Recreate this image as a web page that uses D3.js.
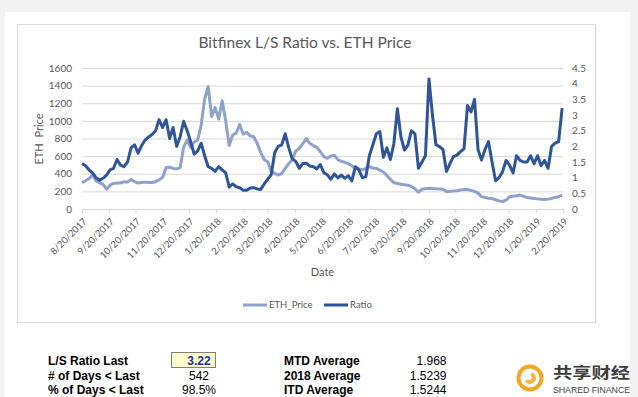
<!DOCTYPE html>
<html>
<head>
<meta charset="utf-8">
<script src="https://cdn.jsdelivr.net/npm/d3@7"></script>
<style>
  html, body { margin: 0; padding: 0; background: #f2f2f2; }
  svg { display: block; }
</style>
</head>
<body>
<script>
// x axis labels, one per month
var tickLabels = ["8/20/2017", "9/20/2017", "10/20/2017", "11/20/2017", "12/20/2017",
  "1/20/2018", "2/20/2018", "3/20/2018", "4/20/2018", "5/20/2018", "6/20/2018",
  "7/20/2018", "8/20/2018", "9/20/2018", "10/20/2018", "11/20/2018", "12/20/2018",
  "1/20/2019", "2/20/2019"];

// series, one value every 4 days from the first date
var startDate = "8/20/2017";
var stepDays = 4;

var ethPrice = [300, 320, 345, 385, 320, 300, 280, 225, 270, 290,
  295, 295, 310, 305, 335, 310, 295, 300, 305, 300,
  300, 310, 330, 360, 470, 475, 460, 455, 470, 700,
  785, 700, 760, 780, 950, 1250, 1390, 1050, 1150, 1020,
  1230, 1000, 720, 840, 860, 960, 850, 870, 830, 820,
  745, 640, 560, 535, 430, 405, 385, 405, 460, 515,
  560, 660, 690, 740, 800, 745, 720, 700, 650, 595,
  575, 600, 610, 560, 540, 530, 515, 490, 460, 455,
  445, 460, 480, 465, 460, 440, 420, 380, 335, 300,
  290, 280, 275, 270, 255, 230, 190, 225, 230, 235,
  232, 230, 228, 225, 200, 200, 205, 208, 215, 220,
  222, 210, 200, 180, 140, 130, 122, 118, 105, 92,
  85, 100, 140, 145, 150, 158, 145, 130, 125, 120,
  115, 110, 108, 112, 120, 132, 140, 158];

var ratio = [1.45, 1.38, 1.25, 1.15, 1.0, 0.92, 0.98, 1.08, 1.25, 1.3,
  1.58, 1.4, 1.35, 1.5, 1.95, 2.05, 1.78, 2.02, 2.2, 2.3,
  2.38, 2.5, 2.85, 2.6, 2.85, 2.25, 2.6, 2.0, 2.3, 2.8,
  2.5, 2.15, 1.75, 1.85, 2.1, 1.7, 1.35, 1.3, 1.2, 1.35,
  1.25, 1.15, 0.7, 0.8, 0.71, 0.68, 0.6, 0.6, 0.67, 0.68,
  0.64, 0.62, 0.8, 0.95, 1.1, 1.8, 2.0, 2.05, 2.4, 1.95,
  1.6, 1.52, 1.3, 1.45, 1.46, 1.37, 1.35, 1.28, 1.42, 1.16,
  1.09, 0.95, 1.12, 1.0, 1.08, 0.98, 1.06, 0.9, 1.35, 1.25,
  1.0, 1.03, 1.7, 2.05, 2.4, 2.47, 1.65, 1.95, 1.58, 2.1,
  3.2, 2.3, 1.88, 2.04, 2.5, 2.4, 1.3, 1.5, 1.7, 4.15,
  3.0, 2.05, 1.99, 1.9, 1.2, 1.45, 1.67, 1.72, 1.83, 1.92,
  3.3, 3.1, 3.5, 1.9, 1.56, 1.9, 2.15, 1.5, 0.9, 1.0,
  1.19, 1.55, 1.4, 1.15, 1.7, 1.55, 1.5, 1.5, 1.7, 1.45,
  1.7, 1.38, 1.55, 1.3, 2.0, 2.1, 2.15, 3.22];

var leftTicks = [0, 200, 400, 600, 800, 1000, 1200, 1400, 1600];
var rightTicks = [0, 0.5, 1, 1.5, 2, 2.5, 3, 3.5, 4, 4.5];

var seriesNames = ["ETH_Price", "Ratio"];
var seriesColors = ["#8fa2cc", "#2f5597"];

var statLabels = ["L/S Ratio Last", "# of Days < Last", "% of Days < Last"];
var statValues = ["3.22", "542", "98.5%"];
var avgLabels = ["MTD Average", "2018 Average", "ITD Average"];
var avgValues = ["1.968", "1.5239", "1.5244"];

// ==============================================================================

var width = 638, height = 397;
var font = "Lato, 'Open Sans', sans-serif";
var textColor = "#595959";

var parseDate = d3.timeParse("%m/%d/%Y");
var t0 = parseDate(startDate);
var dates = ethPrice.map((d, i) => d3.timeDay.offset(t0, i * stepDays));
var tickDates = tickLabels.map(parseDate);

var x = d3.scaleTime()
    .domain([tickDates[0], tickDates[tickDates.length - 1]])
    .range([82, 563]);

var yL = d3.scaleLinear().domain([0, 1600]).range([209, 68]);
var yR = d3.scaleLinear().domain([0, 4.5]).range([209, 68]);

var svg = d3.select("body").append("svg")
    .attr("width", width)
    .attr("height", height);

// white sheet and chart frame
svg.append("rect")
    .attr("x", 5).attr("y", 12)
    .attr("width", 625).attr("height", height - 12)
    .attr("fill", "#fff");

svg.append("rect")
    .attr("x", 17.5).attr("y", 24.5)
    .attr("width", 578).attr("height", 298)
    .attr("fill", "#fff")
    .attr("stroke", "#d9d9d9");

svg.append("text")
    .attr("x", 305).attr("y", 48)
    .attr("text-anchor", "middle")
    .style("font-family", font)
    .style("font-size", "15.5px")
    .attr("fill", textColor)
    .text("Bitfinex L/S Ratio vs. ETH Price");

// left axis + gridlines
var gLeft = svg.append("g")
    .attr("transform", "translate(82,0)")
    .call(d3.axisLeft(yL).tickValues(leftTicks).tickSizeInner(-481).tickSizeOuter(0)
      .tickPadding(10).tickFormat(d => String(d)));
gLeft.select(".domain").remove();
gLeft.selectAll("line").attr("stroke", "#d9d9d9");
gLeft.selectAll("text")
    .style("font-family", font).style("font-size", "10px").attr("fill", textColor);

// right axis
var gRight = svg.append("g")
    .attr("transform", "translate(563,0)")
    .call(d3.axisRight(yR).tickValues(rightTicks).tickSize(0).tickPadding(9).tickFormat(d => String(d)));
gRight.select(".domain").remove();
gRight.selectAll("text")
    .style("font-family", font).style("font-size", "10px").attr("fill", textColor);

// bottom axis
var gBottom = svg.append("g")
    .attr("transform", "translate(0,209)")
    .call(d3.axisBottom(x).tickValues(tickDates).tickSizeInner(4).tickSizeOuter(0)
      .tickFormat((d, i) => tickLabels[i]));
gBottom.select(".domain").attr("stroke", "#d9d9d9");
gBottom.selectAll("line").attr("stroke", "#d9d9d9");
gBottom.selectAll("text")
    .attr("y", 0).attr("dy", 0)
    .attr("text-anchor", "end")
    .attr("transform", "translate(5,13) rotate(-45)")
    .style("font-family", font).style("font-size", "9.5px").attr("fill", textColor);

// axis titles
svg.append("text")
    .attr("transform", "translate(43,139) rotate(-90)")
    .attr("text-anchor", "middle")
    .style("font-family", font).style("font-size", "11px")
    .style("white-space", "pre")
    .attr("fill", textColor)
    .text("ETH  Price");

svg.append("text")
    .attr("x", 322.5).attr("y", 276)
    .attr("text-anchor", "middle")
    .style("font-family", font).style("font-size", "11px")
    .attr("fill", textColor)
    .text("Date");

// lines
var ethLine = d3.line()
    .x((d, i) => x(dates[i]))
    .y(d => yL(d));

var ratioLine = d3.line()
    .x((d, i) => x(dates[i]))
    .y(d => yR(d));

svg.append("path")
    .attr("d", ethLine(ethPrice))
    .attr("fill", "none")
    .attr("stroke", seriesColors[0])
    .attr("stroke-width", 3)
    .attr("stroke-linejoin", "round");

svg.append("path")
    .attr("d", ratioLine(ratio))
    .attr("fill", "none")
    .attr("stroke", seriesColors[1])
    .attr("stroke-width", 3)
    .attr("stroke-linejoin", "round");

// legend
var legendX = [243, 324];
var legend = svg.selectAll(".legend")
    .data(seriesNames)
  .enter().append("g")
    .attr("transform", (d, i) => "translate(" + legendX[i] + ",305)");
legend.append("line")
    .attr("x1", 0).attr("x2", 24)
    .attr("stroke", (d, i) => seriesColors[i])
    .attr("stroke-width", 3);
legend.append("text")
    .attr("x", 26).attr("dy", "0.33em")
    .style("font-family", font).style("font-size", "9.5px")
    .attr("fill", textColor)
    .text(d => d);

// stats table under the chart
var tableFont = "'Liberation Sans', Arial, sans-serif";
var rowY = [365, 380, 394];

svg.append("rect")
    .attr("x", 171.5).attr("y", 352.5)
    .attr("width", 44).attr("height", 15)
    .attr("fill", "#ffffcc")
    .attr("stroke", "#000")
    .attr("stroke-dasharray", "1,1");

statLabels.forEach((t, i) => {
  svg.append("text")
      .attr("x", 48).attr("y", rowY[i])
      .style("font-family", tableFont).style("font-size", "12px").style("font-weight", "bold")
      .attr("fill", "#000").text(t);
  svg.append("text")
      .attr("x", 199).attr("y", rowY[i])
      .attr("text-anchor", "middle")
      .style("font-family", tableFont).style("font-size", "12px")
      .style("font-weight", i === 0 ? "bold" : "normal")
      .attr("fill", i === 0 ? "#1f2f9f" : "#000").text(statValues[i]);
});

avgLabels.forEach((t, i) => {
  svg.append("text")
      .attr("x", 284).attr("y", rowY[i])
      .style("font-family", tableFont).style("font-size", "12px").style("font-weight", "bold")
      .attr("fill", "#000").text(t);
  svg.append("text")
      .attr("x", 446.5).attr("y", rowY[i])
      .attr("text-anchor", "end")
      .style("font-family", tableFont).style("font-size", "12px")
      .attr("fill", "#000").text(avgValues[i]);
});

// watermark logo
var logo = svg.append("g").attr("transform", "translate(530,378)");
logo.append("circle")
    .attr("r", 11.5)
    .attr("fill", "none")
    .attr("stroke", "#f5a623")
    .attr("stroke-width", 4);
logo.append("path")
    .attr("d", d3.arc()({innerRadius: 2, outerRadius: 6, startAngle: 0.3, endAngle: 4.2}))
    .attr("fill", "#f7b84a");

svg.append("text")
    .attr("x", 553).attr("y", 378)
    .attr("textLength", 77).attr("lengthAdjust", "spacingAndGlyphs")
    .style("font-family", "'Noto Sans CJK SC', sans-serif").style("font-size", "15px")
    .style("font-weight", "bold")
    .attr("fill", "#3c3c3c")
    .text("共享财经");

svg.append("text")
    .attr("x", 553).attr("y", 393)
    .attr("textLength", 77).attr("lengthAdjust", "spacingAndGlyphs")
    .style("font-family", "'Liberation Sans', sans-serif").style("font-size", "9px")
    .attr("fill", "#3c3c3c")
    .text("SHARED FINANCE");
</script>
</body>
</html>
